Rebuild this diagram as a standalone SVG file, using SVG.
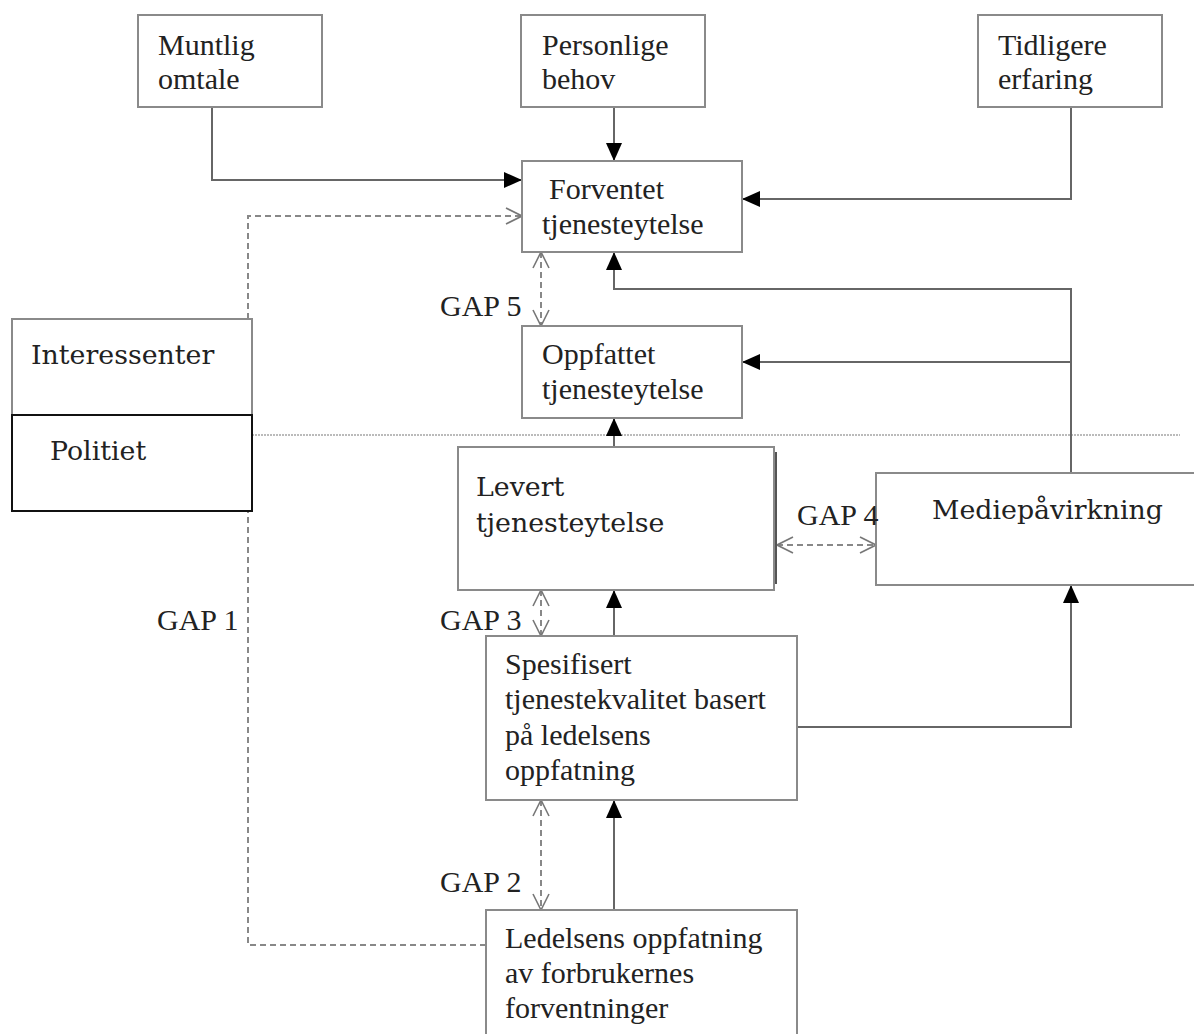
<svg xmlns="http://www.w3.org/2000/svg" width="1194" height="1034" viewBox="0 0 1194 1034">
<style>
.box{fill:#fff;stroke:#8a8a8a;stroke-width:2}
.t{font-family:"Liberation Serif",serif;font-size:30px;fill:#222}
.c{font-family:"DejaVu Serif","Liberation Serif",serif;font-size:26.8px;fill:#222}
.ln{fill:none;stroke:#666;stroke-width:2}
.dl{fill:none;stroke:#888;stroke-width:2;stroke-dasharray:6 4}
</style>
<defs>
<marker id="fa" markerUnits="userSpaceOnUse" markerWidth="20" markerHeight="20" viewBox="0 0 20 20" refX="19" refY="10" orient="auto">
<path d="M1,2 L19,10 L1,18 Z" fill="#000"/>
</marker>
<marker id="oa" markerUnits="userSpaceOnUse" markerWidth="20" markerHeight="20" viewBox="0 0 20 20" refX="19" refY="10" orient="auto-start-reverse">
<path d="M3,2 L19,10 L3,18" fill="none" stroke="#777" stroke-width="1.6"/>
</marker>
</defs>
<rect width="1194" height="1034" fill="#fff"/>
<line x1="252" y1="435" x2="1180" y2="435" stroke="#bbb" stroke-width="2" stroke-dasharray="2 1"/>
<g id="connectors">
<polyline class="ln" points="212,107 212,180 522,180" marker-end="url(#fa)"/>
<polyline class="ln" points="614,107 614,161" marker-end="url(#fa)"/>
<polyline class="ln" points="1071,107 1071,199 742,199" marker-end="url(#fa)"/>
<polyline class="dl" points="248,319 248,216 522,216" marker-end="url(#oa)"/>
<line class="dl" x1="541" y1="252" x2="541" y2="326" marker-start="url(#oa)" marker-end="url(#oa)"/>
<polyline class="ln" points="1071,473 1071,289 614,289 614,252" marker-end="url(#fa)"/>
<polyline class="ln" points="1071,362 742,362" marker-end="url(#fa)"/>
<polyline class="ln" points="614,447 614,418" marker-end="url(#fa)"/>
<line class="dl" x1="777" y1="545" x2="876" y2="545" marker-start="url(#oa)" marker-end="url(#oa)"/>
<line class="dl" x1="541" y1="590" x2="541" y2="636" marker-start="url(#oa)" marker-end="url(#oa)"/>
<polyline class="ln" points="614,636 614,590" marker-end="url(#fa)"/>
<polyline class="ln" points="797,727 1071,727 1071,585" marker-end="url(#fa)"/>
<line class="dl" x1="541" y1="800" x2="541" y2="910" marker-start="url(#oa)" marker-end="url(#oa)"/>
<polyline class="ln" points="614,910 614,800" marker-end="url(#fa)"/>
<polyline class="dl" points="486,945 248,945 248,511"/>
</g>
<g id="muntlig"><rect class="box" x="138" y="15" width="184" height="92"/><text class="t" x="158" y="55">Muntlig</text><text class="t" x="158" y="89">omtale</text></g>
<g id="personlige"><rect class="box" x="521" y="15" width="184" height="92"/><text class="t" x="542" y="55">Personlige</text><text class="t" x="542" y="89">behov</text></g>
<g id="tidligere"><rect class="box" x="978" y="15" width="184" height="92"/><text class="t" x="998" y="55">Tidligere</text><text class="t" x="998" y="89">erfaring</text></g>
<g id="forventet"><rect class="box" x="522" y="161" width="220" height="91"/><text class="t" x="549" y="199">Forventet</text><text class="t" x="542" y="234">tjenesteytelse</text></g>
<g id="oppfattet"><rect class="box" x="522" y="326" width="220" height="92"/><text class="t" x="542" y="364">Oppfattet</text><text class="t" x="542" y="399">tjenesteytelse</text></g>
<g id="interessenter"><rect class="box" x="12" y="319" width="240" height="96"/><text class="c" x="31" y="364">Interessenter</text></g>
<g id="politiet"><rect x="12" y="415" width="240" height="96" fill="#fff" stroke="#111" stroke-width="2"/><text class="c" x="50" y="460">Politiet</text></g>
<g id="levert"><rect class="box" x="458" y="447" width="316" height="143"/><line x1="776" y1="452" x2="776" y2="584" stroke="#555" stroke-width="2"/><text class="c" x="476" y="496">Levert</text><text class="c" x="476" y="532">tjenesteytelse</text></g>
<g id="media"><rect class="box" x="876" y="473" width="330" height="112"/><text class="c" x="932" y="519">Mediepåvirkning</text></g>
<g id="spesifisert"><rect class="box" x="486" y="636" width="311" height="164"/><text class="t" x="505" y="674">Spesifisert</text><text class="t" x="505" y="709">tjenestekvalitet basert</text><text class="t" x="505" y="745">på ledelsens</text><text class="t" x="505" y="780">oppfatning</text></g>
<g id="ledelsens"><rect class="box" x="486" y="910" width="311" height="140"/><text class="t" x="505" y="948">Ledelsens oppfatning</text><text class="t" x="505" y="983">av forbrukernes</text><text class="t" x="505" y="1018">forventninger</text></g>
<g id="labels">
<text class="t" x="440" y="316">GAP 5</text>
<text class="t" x="797" y="525">GAP 4</text>
<text class="t" x="440" y="630">GAP 3</text>
<text class="t" x="157" y="630">GAP 1</text>
<text class="t" x="440" y="892">GAP 2</text>
</g>
</svg>
